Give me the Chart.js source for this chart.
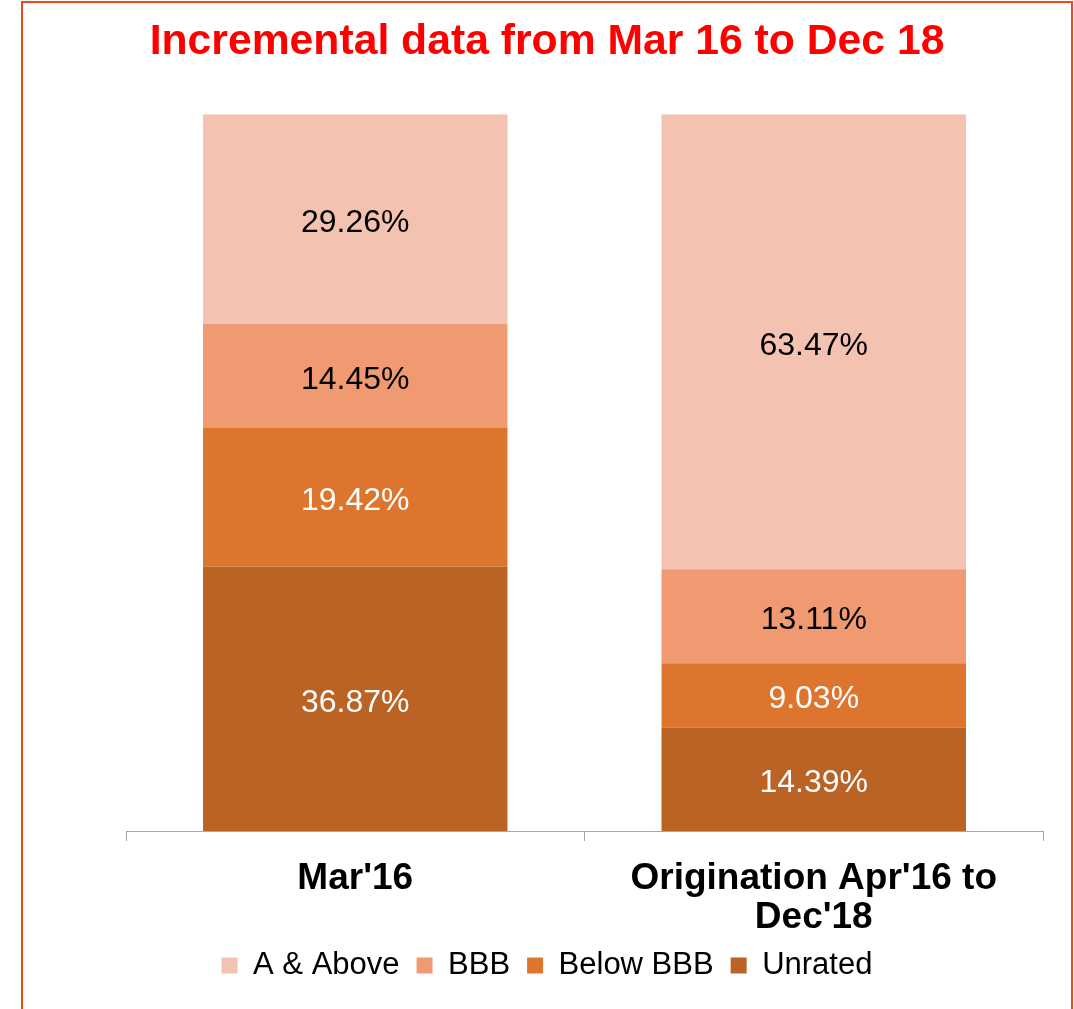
<!DOCTYPE html>
<html>
<head>
<meta charset="utf-8">
<script src="https://cdn.jsdelivr.net/npm/chart.js@4.4.0/dist/chart.umd.min.js"></script>
<style>
  body { margin: 0; overflow: hidden; background: #fff; }
  #wrap { position: relative; width: 1074px; height: 1009px; }
  #frame {
    position: absolute; left: 21px; top: 1px; width: 1048px; height: 1100px;
    border: 2px solid #F2471A; pointer-events: none;
  }
</style>
</head>
<body>
<div id="wrap">
  <canvas id="myChart" width="1074" height="1009"></canvas>
  <div id="frame"></div>
</div>
<script>
const categories = ["Mar'16", ["Origination Apr'16 to", "Dec'18"]]
const seriesNames = ["A & Above", "BBB", "Below BBB", "Unrated"]
const aAbove = [29.26, 63.47]
const bbb = [14.45, 13.11]
const belowBbb = [19.42, 9.03]
const unrated = [36.87, 14.39]
const seriesColors = ["#F4C2B0", "#F09A72", "#DE752F", "#BB6225"]
const labelColors = ["#000", "#000", "#fff", "#fff"]

const fontFamily = "'Liberation Sans', Arial, sans-serif"

// stacked bottom-up, so the first dataset is the bottom segment
const values = [aAbove, bbb, belowBbb, unrated]
const datasets = []
for (let i = values.length - 1; i >= 0; i--) {
  datasets.push({
    label: seriesNames[i],
    data: values[i],
    backgroundColor: seriesColors[i],
    borderWidth: 0,
    labelColor: labelColors[i],
    categoryPercentage: 0.83,
    barPercentage: 0.8,
  })
}

// write the percentage in the middle of every segment
const segmentLabels = {
  id: "segmentLabels",
  afterDatasetsDraw(chart) {
    const ctx = chart.ctx
    ctx.save()
    ctx.font = "32px " + fontFamily
    ctx.textAlign = "center"
    ctx.textBaseline = "middle"
    chart.data.datasets.forEach((ds, i) => {
      const meta = chart.getDatasetMeta(i)
      meta.data.forEach((bar, j) => {
        const p = bar.getCenterPoint()
        ctx.fillStyle = ds.labelColor
        ctx.fillText(ds.data[j].toFixed(2) + "%", p.x, p.y + 4)
      })
    })
    ctx.restore()
  }
}

const ctx = document.getElementById("myChart").getContext("2d")
const myChart = new Chart(ctx, {
  type: "bar",
  data: { labels: categories, datasets },
  plugins: [segmentLabels],
  options: {
    responsive: false,
    animation: false,
    layout: { padding: { left: 22, right: 2, top: 0, bottom: 18 } },
    scales: {
      x: {
        stacked: true,
        grid: { display: true, drawOnChartArea: false, drawTicks: true, tickLength: 10, color: "#A6A6A6" },
        border: { display: true, color: "#A6A6A6", width: 1 },
        ticks: {
          color: "#000",
          padding: 18,
          font: { family: fontFamily, size: 37, weight: "bold", lineHeight: 1.06 }
        },
        // keep the second label line inside the axis box
        afterFit(scale) { scale.height = 102 }
      },
      y: {
        stacked: true,
        min: 0,
        max: 100,
        grid: { display: false },
        border: { display: false },
        ticks: { display: false },
        afterFit(scale) { scale.width = 104 }
      },
      y2: {
        position: "right",
        grid: { display: false },
        border: { display: false },
        ticks: { display: false },
        afterFit(scale) { scale.width = 29 }
      }
    },
    plugins: {
      title: {
        display: true,
        text: "Incremental data from Mar 16 to Dec 18",
        color: "#FF0000",
        font: { family: fontFamily, size: 42.7, weight: "bold", lineHeight: 1.2 },
        padding: { top: 17, bottom: 46 }
      },
      legend: {
        position: "bottom",
        reverse: true,
        labels: {
          color: "#000",
          boxWidth: 16,
          boxHeight: 16,
          padding: 17,
          font: { family: fontFamily, size: 31 }
        }
      },
      tooltip: { enabled: false }
    }
  }
})
</script>
</body>
</html>
